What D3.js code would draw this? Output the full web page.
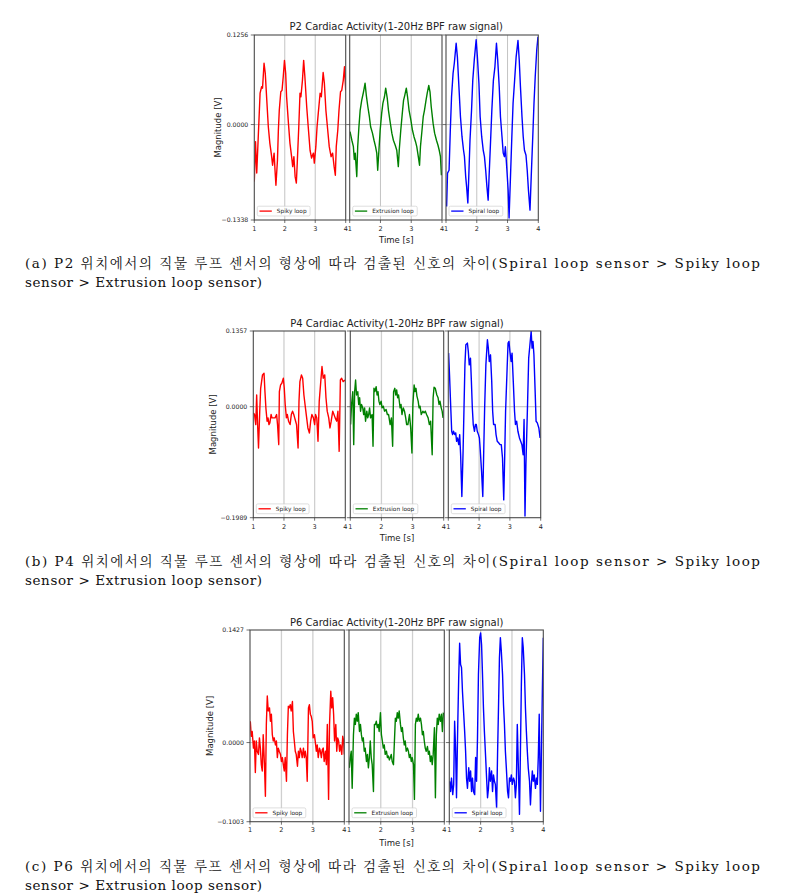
<!DOCTYPE html>
<html><head><meta charset="utf-8">
<script src="https://cdn.jsdelivr.net/npm/d3@7"></script>
<style>body{margin:0;background:#fff}svg{display:block}</style>
</head><body>
<svg id="chart" width="809" height="896"></svg>
<script>
// ---------------- DATA ----------------
const seriesNames = ["Spiky loop", "Extrusion loop", "Spiral loop"];
const seriesColors = ["#ff0000", "#008000", "#0000ff"];
const xTicks = [1, 2, 3, 4];
const xDomain = [1, 4];

const titles = [
  "P2 Cardiac Activity(1-20Hz BPF raw signal)",
  "P4 Cardiac Activity(1-20Hz BPF raw signal)",
  "P6 Cardiac Activity(1-20Hz BPF raw signal)"
];
const yTicksP2 = [-0.1338, 0.0, 0.1256];
const yTicksP4 = [-0.1989, 0.0, 0.1357];
const yTicksP6 = [-0.1003, 0.0, 0.1427];

const captions = [
  ["(a) P2 위치에서의 직물 루프 센서의 형상에 따라 검출된 신호의 차이(Spiral loop sensor > Spiky loop", "sensor > Extrusion loop sensor)"],
  ["(b) P4 위치에서의 직물 루프 센서의 형상에 따라 검출된 신호의 차이(Spiral loop sensor > Spiky loop", "sensor > Extrusion loop sensor)"],
  ["(c) P6 위치에서의 직물 루프 센서의 형상에 따라 검출된 신호의 차이(Spiral loop sensor > Spiky loop", "sensor > Extrusion loop sensor)"]
];

// [time s, magnitude V]
const p2Spiky = [[1.00,-0.080],[1.04,-0.024],[1.08,-0.068],[1.13,-0.017],[1.19,0.044],[1.24,0.053],[1.27,0.051],[1.32,0.086],[1.36,0.072],[1.41,0.034],[1.46,-0.003],[1.51,-0.026],[1.57,-0.045],[1.60,-0.057],[1.65,-0.040],[1.68,-0.064],[1.71,-0.085],[1.76,-0.050],[1.79,-0.008],[1.82,0.020],[1.87,0.046],[1.91,0.048],[1.95,0.067],[1.99,0.090],[2.03,0.072],[2.06,0.039],[2.12,0.002],[2.17,-0.026],[2.23,-0.047],[2.26,-0.059],[2.30,-0.045],[2.34,-0.073],[2.38,-0.082],[2.41,-0.054],[2.46,-0.003],[2.50,0.044],[2.53,0.039],[2.58,0.062],[2.62,0.090],[2.66,0.067],[2.72,0.025],[2.77,-0.003],[2.83,-0.036],[2.88,-0.047],[2.94,-0.040],[2.97,-0.054],[3.02,-0.031],[3.06,-0.003],[3.10,0.016],[3.16,0.044],[3.20,0.039],[3.26,0.073],[3.30,0.058],[3.35,0.020],[3.41,-0.008],[3.46,-0.031],[3.52,-0.045],[3.57,-0.040],[3.62,-0.059],[3.66,-0.071],[3.69,-0.031],[3.74,-0.008],[3.78,0.020],[3.83,0.046],[3.87,0.048],[3.92,0.062],[3.96,0.081],[4.00,0.048]];
const p2Extrusion = [[1.01,-0.010],[1.07,-0.022],[1.12,-0.031],[1.15,-0.049],[1.18,-0.040],[1.23,-0.073],[1.26,-0.031],[1.30,-0.003],[1.34,0.020],[1.39,0.034],[1.45,0.046],[1.50,0.058],[1.54,0.041],[1.59,0.025],[1.64,0.011],[1.68,-0.003],[1.74,-0.012],[1.79,-0.022],[1.84,-0.031],[1.88,-0.040],[1.91,-0.064],[1.95,-0.036],[1.99,-0.008],[2.04,0.016],[2.08,0.030],[2.13,0.039],[2.17,0.051],[2.22,0.037],[2.26,0.020],[2.32,0.002],[2.37,-0.012],[2.42,-0.022],[2.48,-0.029],[2.53,-0.036],[2.58,-0.059],[2.61,-0.036],[2.66,-0.008],[2.71,0.016],[2.75,0.034],[2.79,0.041],[2.84,0.051],[2.88,0.039],[2.93,0.020],[2.99,0.006],[3.04,-0.008],[3.09,-0.017],[3.14,-0.024],[3.18,-0.031],[3.23,-0.045],[3.27,-0.057],[3.30,-0.031],[3.35,-0.008],[3.39,0.011],[3.43,0.020],[3.48,0.034],[3.52,0.044],[3.57,0.055],[3.61,0.046],[3.65,0.025],[3.71,0.002],[3.76,-0.012],[3.82,-0.022],[3.87,-0.029],[3.91,-0.036],[3.95,-0.045],[3.98,-0.071]];
const p2Spiral = [[1.02,-0.115],[1.05,-0.068],[1.10,-0.064],[1.14,-0.008],[1.18,0.039],[1.23,0.072],[1.27,0.086],[1.33,0.114],[1.37,0.095],[1.42,0.053],[1.47,0.011],[1.52,-0.017],[1.57,-0.036],[1.60,-0.045],[1.64,-0.073],[1.67,-0.087],[1.71,-0.110],[1.74,-0.073],[1.78,-0.022],[1.83,0.020],[1.87,0.062],[1.92,0.091],[1.98,0.119],[2.02,0.095],[2.07,0.058],[2.11,0.011],[2.16,-0.017],[2.21,-0.036],[2.25,-0.045],[2.29,-0.064],[2.33,-0.087],[2.37,-0.106],[2.40,-0.073],[2.45,-0.022],[2.49,0.020],[2.54,0.062],[2.59,0.081],[2.64,0.114],[2.68,0.091],[2.73,0.053],[2.77,0.011],[2.82,-0.017],[2.86,-0.040],[2.90,-0.045],[2.93,-0.031],[2.98,-0.064],[3.02,-0.092],[3.05,-0.131],[3.10,-0.068],[3.14,-0.017],[3.18,0.030],[3.23,0.062],[3.28,0.095],[3.34,0.118],[3.38,0.091],[3.42,0.053],[3.47,0.011],[3.51,-0.017],[3.55,-0.036],[3.60,-0.043],[3.64,-0.064],[3.68,-0.092],[3.73,-0.120],[3.77,-0.073],[3.82,-0.017],[3.86,0.030],[3.90,0.067],[3.95,0.105],[3.99,0.123]];

const p4Spiky = [[1.00,-0.011],[1.04,-0.014],[1.08,-0.032],[1.11,0.021],[1.14,-0.032],[1.17,-0.074],[1.21,-0.008],[1.24,0.033],[1.27,0.045],[1.30,0.057],[1.35,0.060],[1.38,0.027],[1.41,-0.002],[1.45,-0.026],[1.48,-0.020],[1.51,-0.032],[1.54,-0.029],[1.58,-0.014],[1.61,-0.020],[1.65,-0.020],[1.71,-0.020],[1.76,-0.014],[1.79,-0.032],[1.83,-0.068],[1.85,0.027],[1.89,0.039],[1.93,0.042],[1.98,0.051],[2.01,0.033],[2.04,0.004],[2.08,-0.020],[2.11,-0.014],[2.15,-0.026],[2.20,-0.032],[2.24,-0.014],[2.28,-0.008],[2.32,-0.014],[2.35,-0.020],[2.38,-0.026],[2.41,-0.032],[2.46,-0.074],[2.49,0.010],[2.52,0.045],[2.57,0.057],[2.61,0.051],[2.65,0.021],[2.70,-0.002],[2.74,-0.020],[2.78,-0.038],[2.83,-0.047],[2.87,-0.026],[2.91,-0.014],[2.96,-0.020],[3.00,-0.032],[3.03,-0.014],[3.07,-0.020],[3.11,-0.062],[3.15,0.010],[3.20,0.045],[3.24,0.072],[3.28,0.051],[3.33,0.057],[3.37,0.016],[3.41,-0.008],[3.46,-0.020],[3.50,-0.038],[3.54,-0.026],[3.59,-0.008],[3.63,-0.014],[3.67,-0.020],[3.72,-0.026],[3.76,-0.008],[3.80,-0.080],[3.84,0.048],[3.88,0.051],[3.93,0.045],[3.99,0.048]];
const p4Extrusion = [[1.01,-0.032],[1.04,0.004],[1.08,0.027],[1.11,-0.068],[1.14,0.027],[1.17,0.048],[1.20,0.021],[1.24,0.027],[1.27,0.004],[1.30,0.016],[1.33,-0.008],[1.36,0.004],[1.40,-0.002],[1.43,-0.014],[1.46,-0.002],[1.49,-0.026],[1.53,-0.008],[1.56,-0.020],[1.59,-0.014],[1.62,-0.002],[1.65,-0.020],[1.70,-0.014],[1.73,-0.071],[1.76,0.033],[1.79,0.027],[1.83,0.036],[1.86,0.021],[1.89,0.027],[1.92,0.010],[1.95,0.004],[1.99,0.010],[2.02,-0.002],[2.06,0.001],[2.10,-0.008],[2.15,-0.005],[2.19,-0.014],[2.23,-0.014],[2.28,-0.032],[2.32,-0.020],[2.36,-0.071],[2.39,0.027],[2.43,0.033],[2.46,0.021],[2.49,0.030],[2.52,0.016],[2.55,0.021],[2.60,-0.002],[2.63,0.004],[2.66,-0.014],[2.70,-0.002],[2.74,-0.008],[2.78,-0.020],[2.81,-0.032],[2.85,-0.032],[2.90,-0.014],[2.94,-0.038],[2.98,-0.083],[3.01,0.004],[3.05,0.039],[3.08,0.027],[3.11,0.033],[3.14,0.019],[3.18,0.010],[3.21,-0.002],[3.24,0.001],[3.28,-0.014],[3.33,-0.008],[3.37,-0.011],[3.41,-0.008],[3.45,-0.014],[3.50,-0.020],[3.54,-0.032],[3.58,-0.026],[3.63,-0.086],[3.66,0.016],[3.69,0.035],[3.73,0.033],[3.78,0.021],[3.82,0.016],[3.85,0.004],[3.88,0.010],[3.92,-0.002],[3.95,-0.008],[3.98,-0.020]];
const p4Spiral = [[1.01,0.096],[1.04,0.057],[1.08,-0.002],[1.11,-0.044],[1.14,-0.050],[1.17,-0.044],[1.21,-0.050],[1.24,-0.047],[1.27,-0.062],[1.30,-0.056],[1.34,-0.068],[1.37,-0.050],[1.40,-0.086],[1.44,-0.161],[1.48,-0.080],[1.51,-0.002],[1.54,0.075],[1.57,0.111],[1.62,0.114],[1.65,0.099],[1.68,0.075],[1.72,0.087],[1.75,0.045],[1.78,-0.002],[1.81,-0.032],[1.85,-0.044],[1.88,-0.032],[1.91,-0.032],[1.94,-0.044],[1.98,-0.050],[2.01,-0.056],[2.04,-0.080],[2.08,-0.116],[2.12,-0.161],[2.15,-0.080],[2.18,-0.002],[2.22,0.075],[2.27,0.120],[2.30,0.105],[2.33,0.081],[2.37,0.093],[2.41,0.045],[2.44,-0.008],[2.47,-0.032],[2.52,-0.032],[2.55,-0.050],[2.59,-0.062],[2.64,-0.065],[2.68,-0.068],[2.72,-0.068],[2.76,-0.092],[2.80,-0.167],[2.83,-0.092],[2.86,-0.008],[2.91,0.069],[2.94,0.114],[2.97,0.117],[3.00,0.099],[3.04,0.081],[3.07,0.096],[3.11,0.045],[3.15,-0.008],[3.18,-0.032],[3.22,-0.026],[3.26,-0.044],[3.31,-0.056],[3.35,-0.062],[3.39,-0.068],[3.43,-0.086],[3.46,-0.023],[3.49,-0.196],[3.52,-0.104],[3.57,-0.002],[3.61,0.087],[3.65,0.111],[3.69,0.135],[3.72,0.105],[3.75,0.117],[3.78,0.093],[3.82,0.027],[3.85,-0.026],[3.89,-0.029],[3.94,-0.038],[3.98,-0.056]];

const p6Spiky = [[1.01,0.027],[1.04,0.008],[1.07,0.014],[1.11,-0.007],[1.14,0.002],[1.17,-0.038],[1.20,0.002],[1.23,-0.011],[1.27,-0.015],[1.30,0.006],[1.33,-0.007],[1.36,-0.028],[1.39,-0.036],[1.42,0.010],[1.46,-0.028],[1.49,-0.068],[1.52,0.023],[1.55,0.059],[1.58,0.040],[1.62,0.044],[1.65,0.027],[1.68,0.036],[1.71,0.010],[1.74,0.002],[1.77,0.006],[1.81,-0.003],[1.84,0.002],[1.87,-0.019],[1.90,-0.007],[1.93,-0.011],[1.97,-0.015],[2.00,-0.024],[2.03,-0.019],[2.06,-0.028],[2.09,-0.036],[2.12,-0.019],[2.16,-0.049],[2.19,0.010],[2.22,0.046],[2.25,0.044],[2.28,0.048],[2.31,0.040],[2.35,0.052],[2.38,0.014],[2.41,0.002],[2.44,-0.011],[2.47,-0.015],[2.51,-0.030],[2.54,-0.011],[2.57,-0.019],[2.60,-0.007],[2.63,-0.011],[2.66,-0.019],[2.70,-0.007],[2.73,-0.019],[2.76,-0.011],[2.79,-0.019],[2.82,-0.049],[2.86,0.044],[2.89,0.048],[2.92,0.036],[2.95,0.033],[2.98,0.027],[3.01,0.006],[3.05,0.010],[3.08,0.000],[3.11,-0.011],[3.14,-0.003],[3.17,-0.019],[3.21,-0.007],[3.24,-0.011],[3.27,-0.019],[3.30,-0.009],[3.33,-0.007],[3.36,-0.024],[3.40,-0.011],[3.43,-0.028],[3.46,0.023],[3.50,-0.072],[3.53,0.023],[3.57,0.065],[3.60,0.044],[3.63,0.057],[3.66,0.036],[3.69,0.002],[3.73,0.023],[3.76,-0.011],[3.79,0.006],[3.82,0.002],[3.85,-0.011],[3.88,-0.003],[3.92,-0.015],[3.95,0.008],[3.98,0.002],[4.00,-0.015]];
const p6Extrusion = [[1.01,-0.032],[1.04,-0.019],[1.07,-0.011],[1.10,-0.058],[1.14,0.010],[1.17,0.031],[1.20,0.023],[1.23,0.036],[1.26,0.027],[1.29,0.038],[1.33,0.014],[1.36,0.023],[1.39,0.010],[1.42,0.002],[1.45,0.006],[1.48,-0.011],[1.51,-0.007],[1.55,-0.024],[1.58,-0.015],[1.61,-0.032],[1.64,-0.019],[1.67,0.002],[1.70,-0.019],[1.73,-0.028],[1.77,-0.062],[1.80,0.023],[1.83,0.023],[1.86,0.027],[1.89,0.019],[1.92,0.023],[1.95,0.014],[1.99,0.038],[2.02,0.010],[2.05,0.002],[2.08,-0.007],[2.11,-0.003],[2.14,-0.015],[2.18,-0.011],[2.21,-0.019],[2.24,-0.017],[2.27,-0.022],[2.30,-0.019],[2.33,-0.015],[2.36,-0.024],[2.40,-0.028],[2.43,0.002],[2.46,0.031],[2.49,0.027],[2.52,0.038],[2.55,0.031],[2.58,0.040],[2.62,0.023],[2.65,0.014],[2.68,0.019],[2.71,0.006],[2.74,-0.003],[2.77,0.002],[2.80,-0.011],[2.84,-0.007],[2.87,-0.011],[2.90,-0.019],[2.93,-0.015],[2.96,-0.024],[2.99,-0.019],[3.03,-0.028],[3.06,-0.072],[3.09,0.023],[3.12,0.031],[3.15,0.027],[3.18,0.036],[3.21,0.027],[3.25,0.031],[3.28,0.023],[3.31,0.010],[3.34,0.014],[3.37,0.002],[3.40,-0.007],[3.43,-0.011],[3.47,-0.005],[3.50,-0.015],[3.53,-0.011],[3.56,-0.024],[3.59,-0.017],[3.62,-0.028],[3.65,-0.015],[3.69,0.019],[3.72,-0.070],[3.75,0.010],[3.78,0.031],[3.81,0.023],[3.84,0.036],[3.88,0.027],[3.91,0.036],[3.94,0.014],[3.97,0.038]];
const p6Spiral = [[1.01,-0.049],[1.04,-0.062],[1.07,-0.045],[1.11,-0.066],[1.14,-0.053],[1.17,0.027],[1.20,-0.007],[1.23,-0.070],[1.27,0.023],[1.30,0.082],[1.33,0.126],[1.36,0.099],[1.39,0.095],[1.42,0.065],[1.46,0.036],[1.49,0.014],[1.52,-0.011],[1.55,-0.045],[1.58,-0.058],[1.62,-0.032],[1.65,-0.049],[1.68,-0.036],[1.71,-0.062],[1.74,-0.045],[1.77,-0.062],[1.81,-0.066],[1.84,-0.019],[1.87,-0.049],[1.90,0.006],[1.93,0.086],[1.97,0.133],[2.00,0.139],[2.03,0.124],[2.06,0.086],[2.09,0.044],[2.12,0.014],[2.16,-0.019],[2.19,-0.045],[2.22,-0.070],[2.25,-0.058],[2.28,-0.032],[2.31,-0.049],[2.35,-0.036],[2.38,-0.062],[2.41,-0.041],[2.44,-0.049],[2.47,-0.053],[2.51,-0.083],[2.54,-0.015],[2.57,0.044],[2.60,0.107],[2.63,0.133],[2.66,0.116],[2.70,0.086],[2.73,0.048],[2.76,0.023],[2.79,-0.011],[2.82,-0.032],[2.86,-0.062],[2.89,-0.070],[2.92,-0.045],[2.95,-0.049],[2.98,-0.041],[3.01,-0.053],[3.05,-0.045],[3.08,-0.049],[3.11,-0.070],[3.14,-0.053],[3.17,0.023],[3.21,-0.041],[3.24,-0.091],[3.27,-0.011],[3.30,0.074],[3.33,0.133],[3.36,0.120],[3.40,0.086],[3.43,0.044],[3.46,0.014],[3.49,-0.011],[3.52,-0.032],[3.56,-0.049],[3.59,-0.079],[3.62,-0.053],[3.65,-0.036],[3.68,-0.049],[3.71,-0.041],[3.75,-0.058],[3.78,-0.045],[3.81,-0.053],[3.84,-0.019],[3.87,0.036],[3.91,-0.087],[3.94,-0.011],[3.97,0.065],[4.00,0.133]];

const panelSeries = [
  [p2Spiky, p2Extrusion, p2Spiral],
  [p4Spiky, p4Extrusion, p4Spiral],
  [p6Spiky, p6Extrusion, p6Spiral]
];
const panelYTicks = [yTicksP2, yTicksP4, yTicksP6];

// ---------------- LAYOUT ----------------
const layouts = [
  {top:35, bottom:220, subs:[[254.3,345.7],[349.7,442],[446,538.3]], titleY:29.5, tickY:230.7, labelY:242.7, magX:218, capY:[268,287], grid:{c:"#b4b4b4", w:0.8}},
  {top:331, bottom:517.7, subs:[[253.3,345.3],[350.3,443.7],[448.3,540.7]], titleY:326.5, tickY:528.7, labelY:540.7, magX:213, capY:[566,585], grid:{c:"#cfcfcf", w:1.3}},
  {top:630, bottom:821.7, subs:[[250,344.3],[349,444.3],[449.3,543.3]], titleY:625.5, tickY:832, labelY:845.5, magX:210, capY:[871,890], grid:{c:"#cfcfcf", w:1.3}}
];

const svg = d3.select("#chart");
const FONT = "'DejaVu Sans', sans-serif";
const fmt = v => (v < 0 ? "\u2212" : "") + Math.abs(v).toFixed(4);

layouts.forEach((L, pi) => {
  const g = svg.append("g");
  const yTicks = panelYTicks[pi];
  const y = d3.scaleLinear().domain([yTicks[0], yTicks[2]]).range([L.bottom, L.top]);
  const left = L.subs[0][0], right = L.subs[2][1];

  // title
  g.append("text").attr("x", (left + right) / 2).attr("y", L.titleY)
    .attr("text-anchor", "middle").attr("font-family", FONT).attr("font-size", 10)
    .attr("fill", "#222").text(titles[pi]);

  L.subs.forEach((s, si) => {
    const x = d3.scaleLinear().domain(xDomain).range(s);
    const sg = g.append("g");
    const clipId = `clip${pi}_${si}`;
    svg.append("defs").append("clipPath").attr("id", clipId)
      .append("rect").attr("x", s[0]).attr("y", L.top).attr("width", s[1] - s[0]).attr("height", L.bottom - L.top);

    // grid
    sg.selectAll(".vg").data(xTicks.slice(1, 3)).join("line")
      .attr("x1", d => x(d)).attr("x2", d => x(d)).attr("y1", L.top).attr("y2", L.bottom)
      .attr("stroke", L.grid.c).attr("stroke-width", L.grid.w);
    sg.append("line").attr("x1", s[0]).attr("x2", s[1]).attr("y1", y(0)).attr("y2", y(0))
      .attr("stroke", "#b0b0b0").attr("stroke-width", 0.8);

    // line
    const line = d3.line().x(d => x(d[0])).y(d => y(d[1]));
    sg.append("path").datum(panelSeries[pi][si]).attr("d", line)
      .attr("fill", "none").attr("stroke", seriesColors[si]).attr("stroke-width", 1.4)
      .attr("stroke-linejoin", "round").attr("clip-path", `url(#${clipId})`);

    // spines
    sg.append("rect").attr("x", s[0]).attr("y", L.top).attr("width", s[1] - s[0]).attr("height", L.bottom - L.top)
      .attr("fill", "none").attr("stroke", "#4a4a4a").attr("stroke-width", 1.1);

    // ticks
    sg.selectAll(".xt").data(xTicks).join("line")
      .attr("x1", d => x(d)).attr("x2", d => x(d)).attr("y1", L.bottom).attr("y2", L.bottom + 3)
      .attr("stroke", "#333").attr("stroke-width", 0.7);
    sg.selectAll(".xl").data(xTicks).join("text")
      .attr("x", d => x(d)).attr("y", L.tickY).attr("text-anchor", "middle")
      .attr("font-family", FONT).attr("font-size", 6.5).attr("fill", "#222").text(d => d);
    sg.selectAll(".yt").data(yTicks).join("line")
      .attr("x1", s[0] - 3.5).attr("x2", s[0]).attr("y1", d => y(d)).attr("y2", d => y(d))
      .attr("stroke", "#333").attr("stroke-width", 0.7);

    // legend
    const lg = sg.append("g");
    const box = lg.append("rect");
    const lx = s[0] + 3, lh = 9.8, ly = L.bottom - 4 - lh;
    lg.append("line").attr("x1", lx + 2.2).attr("x2", lx + 14.5).attr("y1", ly + lh / 2).attr("y2", ly + lh / 2)
      .attr("stroke", seriesColors[si]).attr("stroke-width", 1.3);
    const t = lg.append("text").attr("x", lx + 19.5).attr("y", ly + lh / 2 + 2.1)
      .attr("font-family", FONT).attr("font-size", 5.8).attr("fill", "#222").text(seriesNames[si]);
    const tw = t.node().getComputedTextLength();
    box.attr("x", lx).attr("y", ly).attr("width", tw + 23).attr("height", lh).attr("rx", 1.5)
      .attr("fill", "#fff").attr("fill-opacity", 0.85).attr("stroke", "#d0d0d0").attr("stroke-width", 0.7);
  });

  // y tick labels
  g.selectAll(".yl").data(yTicks).join("text")
    .attr("x", left - 6).attr("y", d => y(d) + 2.1).attr("text-anchor", "end")
    .attr("font-family", FONT).attr("font-size", 6.2).attr("fill", "#222").text(fmt);

  // axis labels
  g.append("text").attr("x", (left + right) / 2).attr("y", L.labelY).attr("text-anchor", "middle")
    .attr("font-family", FONT).attr("font-size", 8.5).attr("fill", "#222").text("Time [s]");
  g.append("text").attr("transform", `translate(${L.magX},${(L.top + L.bottom) / 2}) rotate(-90)`)
    .attr("text-anchor", "middle").attr("dy", "0.35em")
    .attr("font-family", FONT).attr("font-size", 8.5).attr("fill", "#222").text("Magnitude [V]");

  // caption
  const capFont = "'DejaVu Serif', 'Noto Serif CJK KR', 'Noto Sans CJK KR', serif";
  g.append("text").attr("x", 25).attr("y", L.capY[0]).attr("font-family", capFont).attr("font-size", 13.5)
    .attr("fill", "#111").attr("textLength", 735).attr("lengthAdjust", "spacing").text(captions[pi][0]);
  g.append("text").attr("x", 25).attr("y", L.capY[1]).attr("font-family", capFont).attr("font-size", 13.5)
    .attr("fill", "#111").attr("textLength", 237).attr("lengthAdjust", "spacing").text(captions[pi][1]);
});
</script>
</body></html>
